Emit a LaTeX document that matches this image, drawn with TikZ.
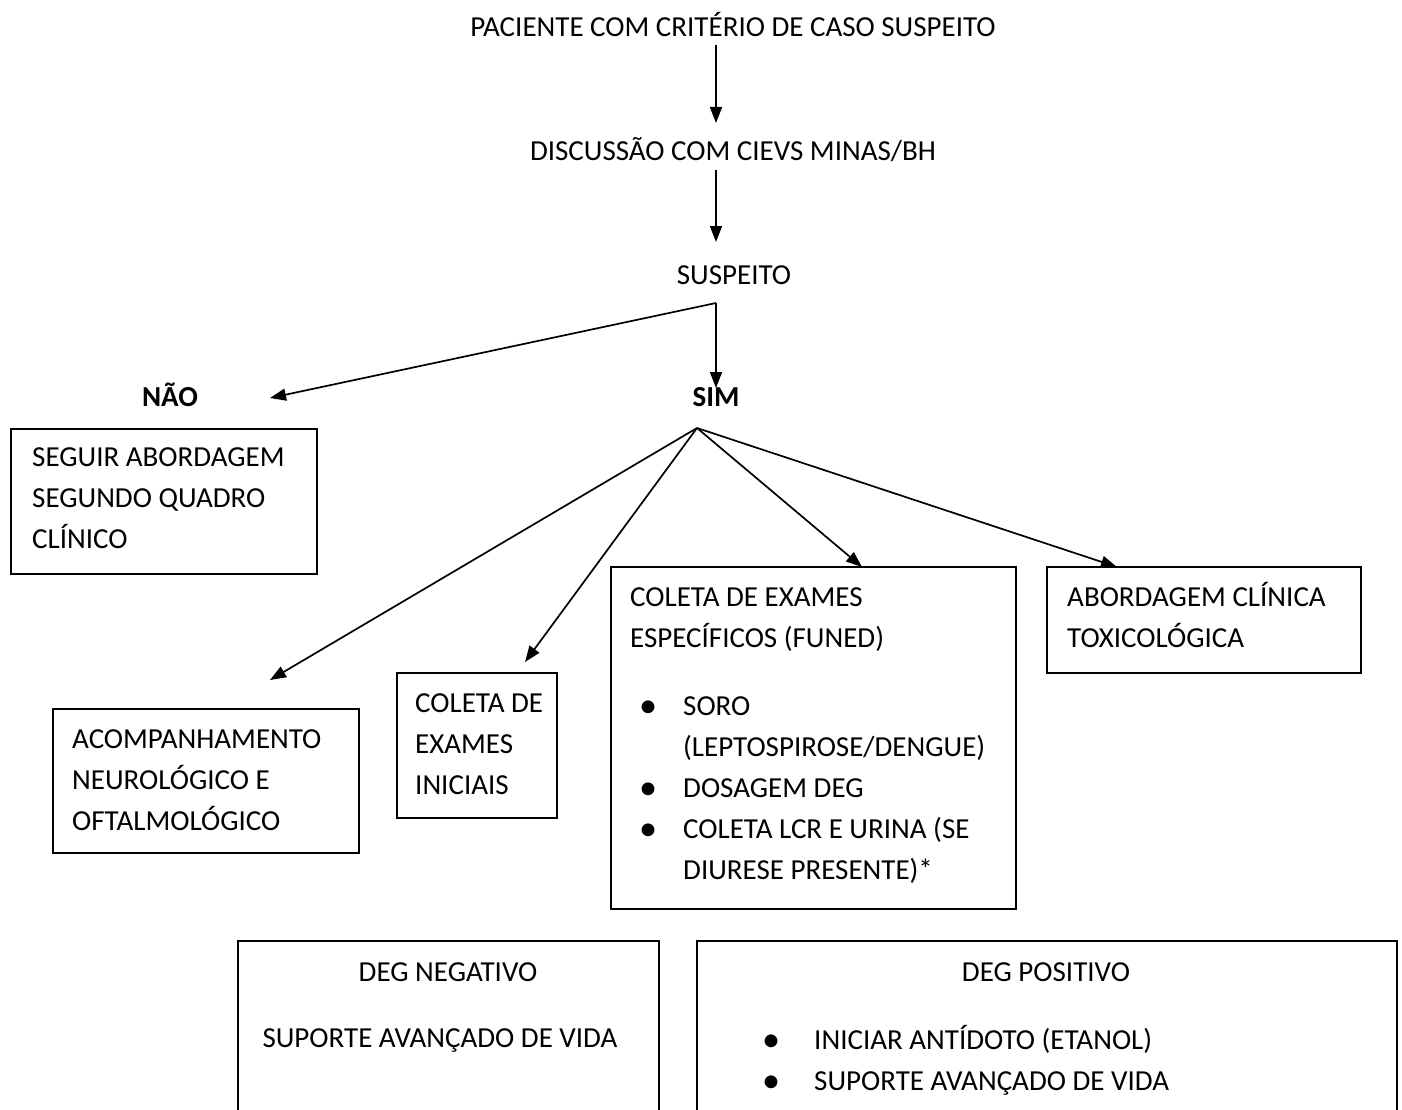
\documentclass[tikz,border=0pt]{standalone}
\usepackage{fontspec}
\setmainfont{Carlito}
\usetikzlibrary{arrows.meta}
\newcommand\fs{\fontsize{29}{41}\selectfont}
\newcommand\tp{\rule{0pt}{30pt}}
\newcommand\bul{\makebox[0pt][c]{\raisebox{-2.5pt}{\scalebox{1.25}{\textbullet}}}}
\begin{document}
\begin{tikzpicture}[x=1pt,y=-1pt,
  txt/.style={inner sep=0pt, font=\fs, align=left, anchor=north west},
  ctr/.style={inner sep=0pt, font=\fs, anchor=base},
  box/.style={draw, line width=1.7pt, inner sep=0pt, anchor=north west},
  arr/.style={line width=1.7pt, -{Triangle[length=16pt,width=12pt]}}]
\clip (0,0) rectangle (1402,1110);
\fill[white] (0,0) rectangle (1402,1110);

% top texts
\node[ctr] (pac) at (733,37) {PACIENTE COM CRITÉRIO DE CASO SUSPEITO};
\node[ctr] (disc) at (733,161) {DISCUSSÃO COM CIEVS MINAS/BH};
\node[ctr] (susp) at (734,284) {SUSPEITO};
\node[ctr,font=\fs\bfseries] (nao) at (170,406) {NÃO};
\node[ctr,font=\fs\bfseries] (sim) at (716,406) {SIM};

% boxes
\node[box, minimum width=306pt, minimum height=145pt] (bseg) at (10,428) {};
\node[txt] (tseg) at (32,436) {\tp SEGUIR ABORDAGEM\\SEGUNDO QUADRO\\CLÍNICO};

\node[box, minimum width=306pt, minimum height=144pt] (bacp) at (52,708) {};
\node[txt] (tacp) at (72,718) {\tp ACOMPANHAMENTO\\NEUROLÓGICO E\\OFTALMOLÓGICO};

\node[box, minimum width=160pt, minimum height=145pt] (bini) at (396,672) {};
\node[txt] (tini) at (415,682) {\tp COLETA DE\\EXAMES\\INICIAIS};

\node[box, minimum width=405pt, minimum height=342pt] (besp) at (610,566) {};
\node[txt] (tesp) at (630,576) {\tp COLETA DE EXAMES\\ESPECÍFICOS (FUNED)\\[27pt]
\hspace*{18pt}\bul\hspace*{35pt}SORO\\
\hspace*{53pt}(LEPTOSPIROSE/DENGUE)\\
\hspace*{18pt}\bul\hspace*{35pt}DOSAGEM DEG\\
\hspace*{18pt}\bul\hspace*{35pt}COLETA LCR E URINA (SE\\
\hspace*{53pt}DIURESE PRESENTE)*};

\node[box, minimum width=314pt, minimum height=106pt] (babo) at (1046,566) {};
\node[txt] (tabo) at (1067,576) {\tp ABORDAGEM CLÍNICA\\TOXICOLÓGICA};

\node[box, minimum width=421pt, minimum height=200pt] (bneg) at (237,940) {};
\node[ctr] (tneg1) at (448,981) {DEG NEGATIVO};
\node[ctr] (tneg2) at (440,1047) {SUPORTE AVANÇADO DE VIDA};

\node[box, minimum width=700pt, minimum height=200pt] (bpos) at (696,940) {};
\node[ctr] (tpos1) at (1046,981) {DEG POSITIVO};
\node[txt] (tpos2) at (771,1019) {\tp\bul\hspace*{43pt}INICIAR ANTÍDOTO (ETANOL)\\
\bul\hspace*{43pt}SUPORTE AVANÇADO DE VIDA};

% connector points
\coordinate (s1) at (716,45);  \coordinate (e1) at (716,123);
\coordinate (s2) at (716,170); \coordinate (e2) at (716,242);
\coordinate (s3) at (716,303); \coordinate (esim) at (716,388);
\coordinate (enao) at (270,398);
\coordinate (s4) at (697,428);
\coordinate (eacp) at (270,680);
\coordinate (eini) at (525,662);
\coordinate (eesp) at (862,567);
\coordinate (eabo) at (1117,567);

\draw[arr] (s1) -- (e1);
\draw[arr] (s2) -- (e2);
\draw[arr] (s3) -- (esim);
\draw[arr] (s3) -- (enao);
\draw[arr] (s4) -- (eacp);
\draw[arr] (s4) -- (eini);
\draw[arr] (s4) -- (eesp);
\draw[arr] (s4) -- (eabo);
\end{tikzpicture}
\end{document}
